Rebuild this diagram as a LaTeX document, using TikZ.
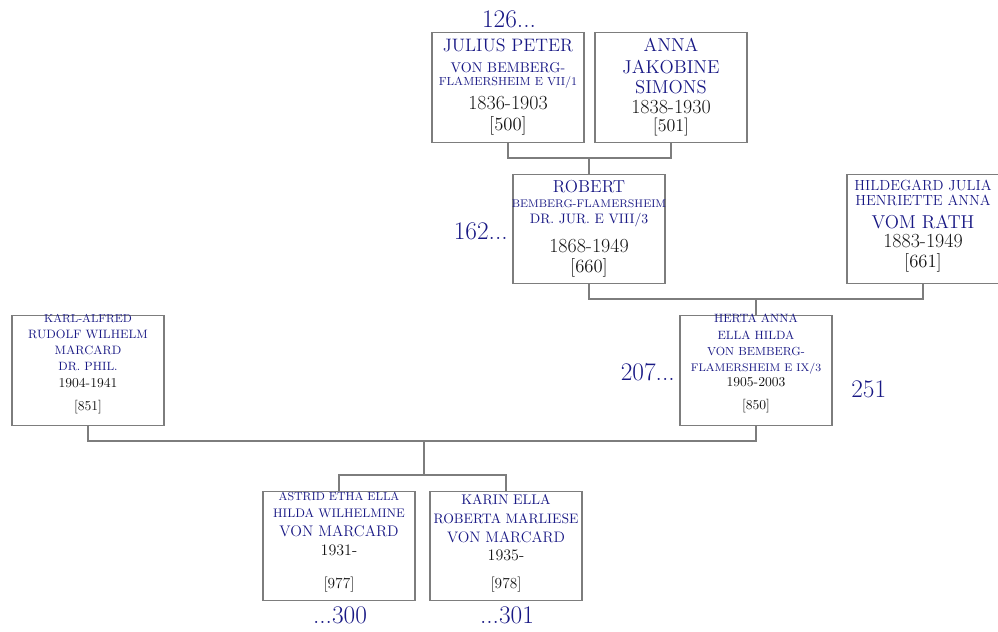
\documentclass[tikz,border=0pt]{standalone}

\definecolor{namecol}{RGB}{24,24,132}
\definecolor{datecol}{RGB}{20,20,20}
\definecolor{boxgray}{RGB}{125,125,125}

\begin{document}
\begin{tikzpicture}[x=0.75pt, y=-0.75pt,
  person/.style={draw=boxgray, line width=0.95pt, minimum width=114pt,
    minimum height=82pt, inner sep=0pt},
  link/.style={draw=boxgray, line width=0.85pt},
  nm/.style={text=namecol, anchor=base, inner sep=0pt,
    font=\fontsize{#1}{#1}\selectfont},
  dt/.style={text=datecol, anchor=base, inner sep=0pt,
    font=\fontsize{#1}{#1}\selectfont},
  gen/.style={text=namecol, inner sep=0pt, font=\fontsize{19}{19}\selectfont}]

  \useasboundingbox (0,0) rectangle (998,631);

  % The eight person boxes.
  \node[person] (julius) at (508,87.5) {};
  \node[person] (anna) at (671,87.5) {};
  \node[person] (robert) at (589,229) {};
  \node[person] (hildegard) at (923,229) {};
  \node[person] (karl) at (88,370.5) {};
  \node[person] (herta) at (756,370.5) {};
  \node[person] (astrid) at (339,546) {};
  \node[person] (karin) at (506,546) {};

  % Family lines between parents and children.
  \coordinate (jp) at (589,158);
  \draw[link] (julius.south) |- (jp) -| (anna.south);
  \draw[link] (jp) -- (robert.north);
  \coordinate (rh) at (756,299);
  \draw[link] (robert.south) |- (rh) -| (hildegard.south);
  \draw[link] (rh) -- (herta.north);
  \coordinate (kh) at (424,441);
  \coordinate (kids) at (424,475);
  \draw[link] (karl.south) |- (kh) -| (herta.south);
  \draw[link] (kh) -- (kids);
  \draw[link] (astrid.north) |- (kids) -| (karin.north);

  \node[nm=13.5] (jul1) at (508,52) {JULIUS PETER};
  \node[nm=10.6] (jul2) at (508,73) {VON BEMBERG-};
  \node[nm=8.8] (jul3) at (508,86) {FLAMERSHEIM E VII/1};
  \node[dt=15] (jul4) at (508,110) {1836-1903};
  \node[dt=14] (jul5) at (508,131) {[500]};

  \node[nm=14] (ann1) at (671,52) {ANNA};
  \node[nm=14] (ann2) at (671,74) {JAKOBINE};
  \node[nm=14] (ann3) at (671,94) {SIMONS};
  \node[dt=15] (ann4) at (671,114) {1838-1930};
  \node[dt=13.5] (ann5) at (671,132) {[501]};

  \node[nm=13] (rob1) at (589,192) {ROBERT};
  \node[nm=8.3] (rob2) at (589,207) {BEMBERG-FLAMERSHEIM};
  \node[nm=10.3] (rob3) at (589,223) {DR. JUR. E VIII/3};
  \node[dt=15] (rob4) at (589,252) {1868-1949};
  \node[dt=14] (rob5) at (589,272) {[660]};

  \node[nm=11] (hil1) at (923,190) {HILDEGARD JULIA};
  \node[nm=11] (hil2) at (923,205) {HENRIETTE ANNA};
  \node[nm=14] (hil3) at (923,228) {VOM RATH};
  \node[dt=15] (hil4) at (923,247) {1883-1949};
  \node[dt=14] (hil5) at (923,267) {[661]};

  \node[nm=8.6] (kar1) at (88,322) {KARL-ALFRED};
  \node[nm=9.1] (kar2) at (88,338) {RUDOLF WILHELM};
  \node[nm=9.1] (kar3) at (88,354) {MARCARD};
  \node[nm=9] (kar4) at (88,370) {DR. PHIL.};
  \node[dt=10.2] (kar5) at (88,387) {1904-1941};
  \node[dt=10.2] (kar6) at (88,410) {[851]};

  \node[nm=9] (her1) at (756,322) {HERTA ANNA};
  \node[nm=9] (her2) at (756,339) {ELLA HILDA};
  \node[nm=8.8] (her3) at (756,355) {VON BEMBERG-};
  \node[nm=8.3] (her4) at (756,371) {FLAMERSHEIM E IX/3};
  \node[dt=10.2] (her5) at (756,386) {1905-2003};
  \node[dt=10.2] (her6) at (756,409) {[850]};

  \node[nm=8.7] (ast1) at (339,500) {ASTRID ETHA ELLA};
  \node[nm=9.3] (ast2) at (339,517) {HILDA WILHELMINE};
  \node[nm=11.5] (ast3) at (339,536) {VON MARCARD};
  \node[dt=12] (ast4) at (339,555) {1931-};
  \node[dt=11.5] (ast5) at (339,588) {[977]};

  \node[nm=10.5] (kin1) at (506,504) {KARIN ELLA};
  \node[nm=10.3] (kin2) at (506,523) {ROBERTA MARLIESE};
  \node[nm=11.4] (kin3) at (506,542) {VON MARCARD};
  \node[dt=12] (kin4) at (506,560) {1935-};
  \node[dt=11.5] (kin5) at (506,588) {[978]};

  % Generation numbers round the boxes.
  \node[gen, anchor=base] (gen126) at (509,28) {126...};
  \node[gen, anchor=base east] (gen162) at (508,239) {162...};
  \node[gen, anchor=base east] (gen207) at (675,380) {207...};
  \node[gen, anchor=base west] (gen251) at (851,397) {251};
  \node[gen, anchor=base] (gen300) at (340,623) {...300};
  \node[gen, anchor=base] (gen301) at (507,623) {...301};
\end{tikzpicture}
\end{document}
